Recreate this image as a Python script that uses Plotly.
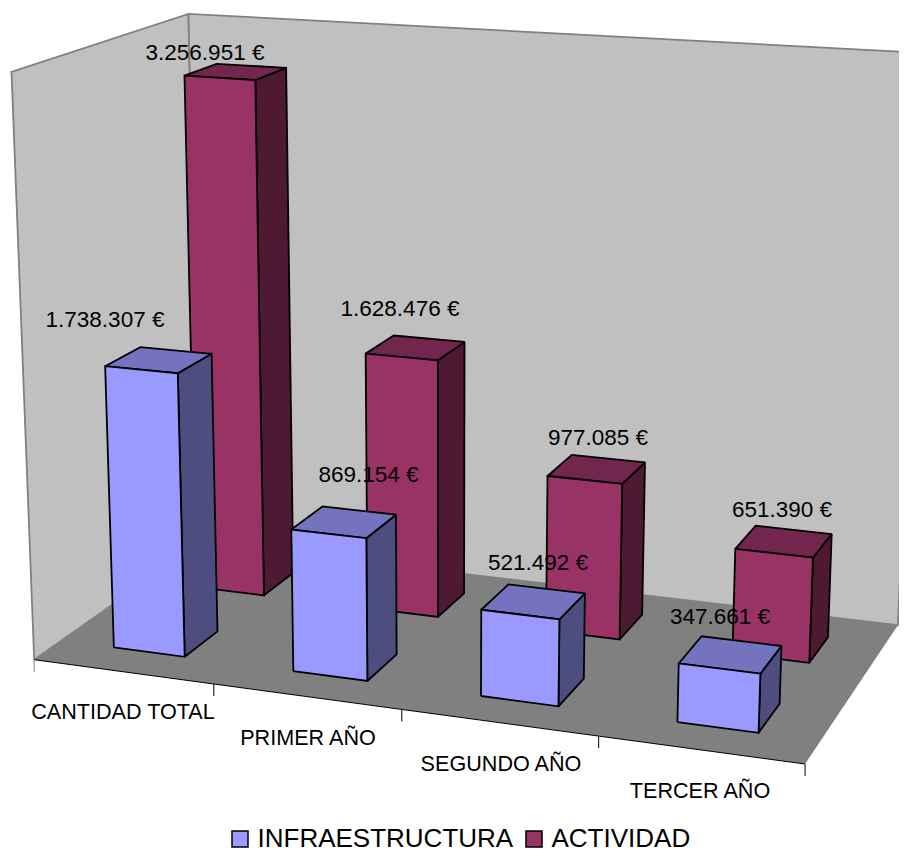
import numpy as np
import plotly.graph_objects as go

# ---- data ----
categories = ["CANTIDAD TOTAL", "PRIMER AÑO", "SEGUNDO AÑO", "TERCER AÑO"]
infraestructura = [1738307, 869154, 521492, 347661]
actividad = [3256951, 1628476, 977085, 651390]
infra_labels = ["1.738.307 €", "869.154 €", "521.492 €", "347.661 €"]
act_labels = ["3.256.951 €", "1.628.476 €", "977.085 €", "651.390 €"]
z_max = 3500000

# ---- styles / layout ----
FONT = "Liberation Sans"
WALL, EDGE, FLOOR = "#C0C0C0", "#808080", "#808080"
BLUE = dict(front="#9999FF", top="#7373BF", side="#4D4D80")
RED = dict(front="#993366", top="#73264D", side="#4D1933")
BAR_W, BAR_D = 0.4, 0.2
ROW_INFRA, ROW_ACT = 0.25, 0.75
infra_label_xy = [(105, 321), (368.5, 476), (538, 564), (720, 618)]
act_label_xy = [(205, 54), (400, 310), (598, 439), (782, 511)]
cat_label_xy = [(123, 714), (308, 740), (501, 766), (700, 793)]
PAGE_W, PAGE_H, BODY_MARGIN = 907, 852, 8

# Perspective of the chart: (category, depth, value in millions) -> page position
CAM = np.array([
    [174.92, 189.6893, -6.657329, 34.19617],
    [9.185892, -53.30923, -169.032, 659.6994],
    [-0.02211104, 0.1170696, -0.01499733, 1.0],
])


def proj(x, y, v):
    h = CAM @ np.array([x, y, v / 1e6, 1.0])
    return h[0] / h[2], h[1] / h[2]


fig = go.Figure()


def poly(points, fill, line=None, lw=1.8):
    pts = [proj(*p) for p in points]
    pts.append(pts[0])
    fig.add_trace(go.Scatter(
        x=[p[0] for p in pts], y=[p[1] for p in pts], mode="lines", fill="toself",
        fillcolor=fill, line=dict(color=line or fill, width=lw if line else 0),
        hoverinfo="skip", showlegend=False))


def segment(a, b, color, lw):
    pa, pb = proj(*a), proj(*b)
    fig.add_trace(go.Scatter(x=[pa[0], pb[0]], y=[pa[1], pb[1]], mode="lines",
                             line=dict(color=color, width=lw), hoverinfo="skip", showlegend=False))


n = len(categories)
# walls and floor
poly([(0, 0, 0), (0, 1, 0), (0, 1, z_max), (0, 0, z_max)], WALL, EDGE, 1.8)
poly([(0, 1, 0), (n, 1, 0), (n, 1, z_max), (0, 1, z_max)], WALL, EDGE, 1.8)
poly([(0, 0, 0), (n, 0, 0), (n, 1, 0), (0, 1, 0)], FLOOR)
segment((0, 0, 0), (n, 0, 0), "#000000", 1)

# category ticks: dropped below the front edge of the floor
for i in range(n + 1):
    px, py = proj(i, 0, 0)
    fig.add_trace(go.Scatter(x=[px, px], y=[py, py + 12], mode="lines",
                             line=dict(color="#000000" if i else EDGE, width=1),
                             hoverinfo="skip", showlegend=False))


def bar(i, value, row, col):
    x0, x1 = i + 0.5 - BAR_W / 2, i + 0.5 + BAR_W / 2
    y0, y1 = row - BAR_D / 2, row + BAR_D / 2
    poly([(x1, y0, 0), (x1, y1, 0), (x1, y1, value), (x1, y0, value)], col["side"], "#000000")
    poly([(x0, y0, value), (x1, y0, value), (x1, y1, value), (x0, y1, value)], col["top"], "#000000")
    poly([(x0, y0, 0), (x1, y0, 0), (x1, y0, value), (x0, y0, value)], col["front"], "#000000")


for i, v in enumerate(actividad):
    bar(i, v, ROW_ACT, RED)
for i, v in enumerate(infraestructura):
    bar(i, v, ROW_INFRA, BLUE)


def texts(xy, labels, size):
    fig.add_trace(go.Scatter(
        x=[p[0] for p in xy], y=[p[1] for p in xy], text=labels, mode="text",
        textposition="middle center", textfont=dict(family=FONT, size=size, color="#000000"),
        hoverinfo="skip", showlegend=False, cliponaxis=False))


texts(infra_label_xy, infra_labels, 22.5)
texts(act_label_xy, act_labels, 22.5)
texts(cat_label_xy, categories, 21.6)

# legend keys
for name, col, mx, tx in [("INFRAESTRUCTURA", BLUE, 240, 257.5), ("ACTIVIDAD", RED, 534, 551.5)]:
    fig.add_trace(go.Scatter(
        x=[mx], y=[839], mode="markers", name=name, showlegend=False, hoverinfo="skip",
        marker=dict(symbol="square", size=16, color=col["front"], line=dict(color="#000000", width=1.5))))
    fig.add_trace(go.Scatter(
        x=[tx], y=[840], mode="text", text=[name], textposition="middle right",
        textfont=dict(family=FONT, size=26, color="#000000"),
        hoverinfo="skip", showlegend=False, cliponaxis=False))

fig.update_layout(
    width=PAGE_W - BODY_MARGIN, height=PAGE_H - BODY_MARGIN, margin=dict(l=0, r=0, t=0, b=0),
    paper_bgcolor="white", plot_bgcolor="white", showlegend=False,
    xaxis=dict(range=[BODY_MARGIN, PAGE_W], visible=False, fixedrange=True),
    yaxis=dict(range=[PAGE_H, BODY_MARGIN], visible=False, fixedrange=True),
)
fig.write_html("out.html")
